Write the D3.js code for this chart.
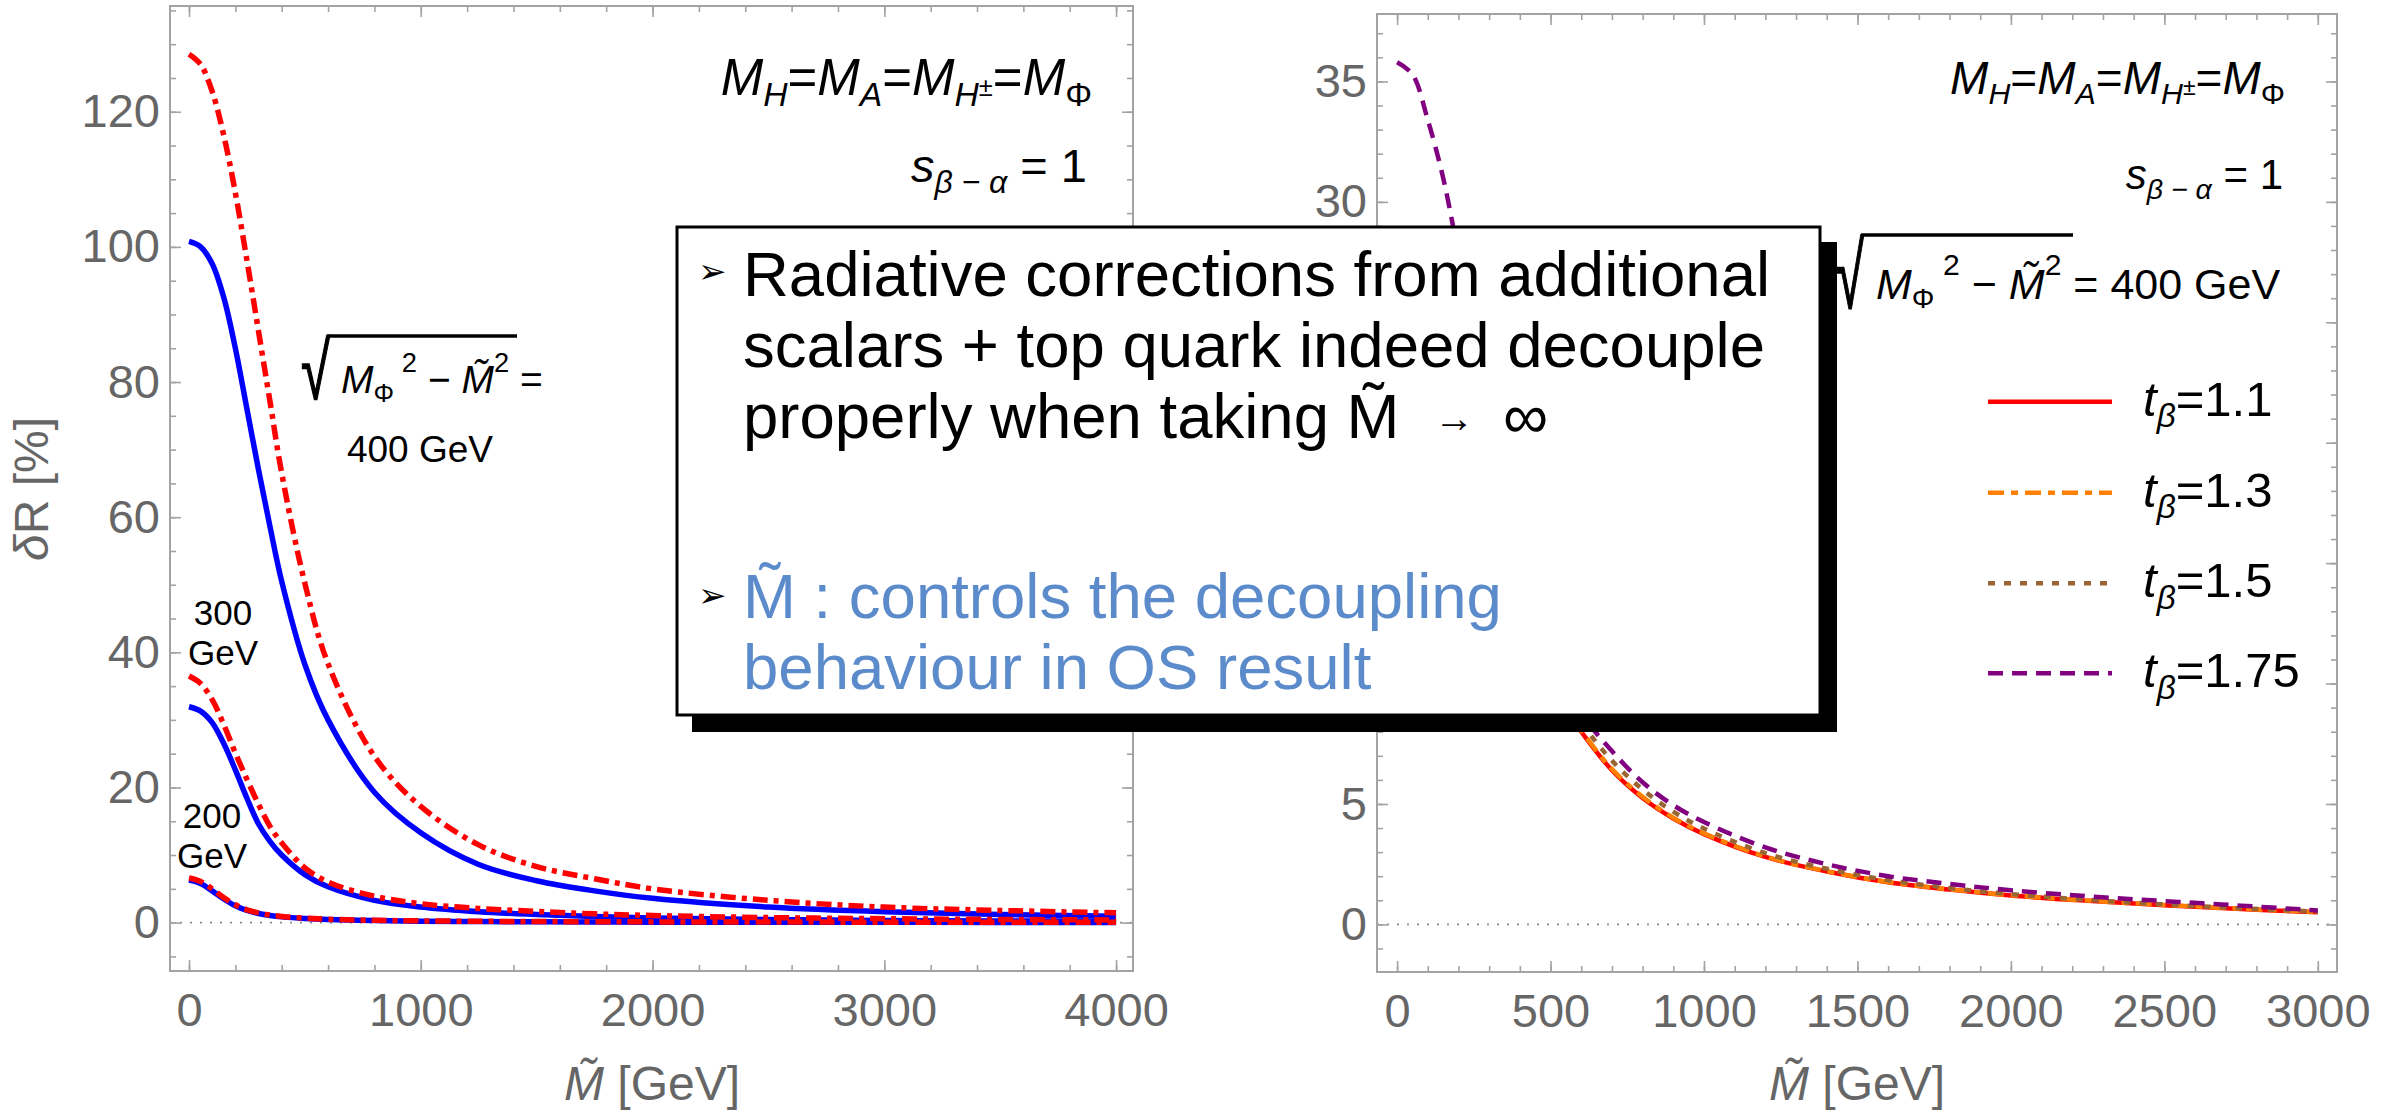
<!DOCTYPE html>
<html><head><meta charset="utf-8">
<script src="https://cdn.jsdelivr.net/npm/d3@7"></script>
<style>
body{margin:0;background:#fff}
svg{display:block}
text{font-family:"Liberation Sans",Arial,Helvetica,sans-serif}
</style>
</head><body>
<svg id="chart" width="2398" height="1114"></svg>
<script>
// ---------------- DATA ----------------
// Left panel: x grid (M~ in GeV) and curves for sqrt(MPhi^2 - M~^2) = 200, 300, 400 GeV
const mLeft   = [0, 50, 100, 150, 200, 250, 300, 350, 400, 500, 600, 800, 1000, 1250, 1500, 1750, 2000, 2500, 3000, 3500, 4000];
const blue400 = [100.8, 100.0, 97.5, 92.5, 85.0, 76.0, 67.0, 58.5, 50.5, 38.2, 30.0, 19.3, 13.3, 8.6, 6.2, 4.7, 3.6, 2.3, 1.6, 1.2, 0.95];
const red400  = [128.5, 127.0, 123.0, 116.5, 108.0, 98.0, 87.5, 77.0, 66.5, 50.2, 38.3, 24.6, 17.2, 11.5, 8.3, 6.5, 5.0, 3.3, 2.3, 1.8, 1.45];
const blue300 = [31.95, 31.3, 29.6, 26.5, 22.6, 18.4, 14.6, 12.0, 10.0, 7.1, 5.3, 3.3, 2.3, 1.6, 1.2, 0.9, 0.7, 0.45, 0.33, 0.25, 0.2];
const red300  = [36.5, 35.4, 33.0, 29.3, 25.1, 21.2, 17.5, 14.2, 11.8, 8.1, 6.0, 3.9, 2.8, 2.1, 1.65, 1.3, 1.05, 0.75, 0.58, 0.47, 0.4];
const blue200 = [6.3, 5.8, 4.7, 3.5, 2.5, 1.8, 1.35, 1.05, 0.85, 0.6, 0.45, 0.3, 0.22, 0.16, 0.12, 0.09, 0.07, 0.05, 0.04, 0.03, 0.03];
const red200  = [6.6, 6.1, 5.0, 3.7, 2.65, 1.9, 1.45, 1.12, 0.92, 0.66, 0.5, 0.34, 0.26, 0.2, 0.16, 0.13, 0.11, 0.08, 0.07, 0.06, 0.05];

// Right panel: x grid and curves for t_beta values
const mRight = [0, 50, 100, 150, 200, 300, 400, 500, 600, 700, 800, 900, 1000, 1200, 1400, 1600, 1800, 2000, 2250, 2500, 2750, 3000];
const tb110  = [22.0, 21.8, 21.2, 20.1, 18.6, 15.2, 12.2, 9.8, 8.0, 6.4, 5.25, 4.4, 3.75, 2.8, 2.2, 1.75, 1.45, 1.2, 0.98, 0.8, 0.64, 0.5];
const tb130  = [22.3, 22.1, 21.5, 20.4, 18.9, 15.4, 12.35, 9.9, 8.05, 6.45, 5.3, 4.43, 3.78, 2.82, 2.21, 1.76, 1.46, 1.21, 0.99, 0.81, 0.65, 0.51];
const tb150  = [25.0, 24.7, 24.0, 22.8, 21.2, 17.2, 13.5, 10.6, 8.4, 6.8, 5.6, 4.68, 3.98, 2.96, 2.31, 1.84, 1.51, 1.26, 1.02, 0.83, 0.67, 0.53];
const tb175  = [35.8, 35.3, 33.4, 31.0, 27.8, 21.0, 15.5, 11.6, 8.8, 7.2, 5.9, 4.95, 4.25, 3.2, 2.5, 2.0, 1.68, 1.42, 1.17, 0.97, 0.78, 0.58];
const legendValues = ["1.1", "1.3", "1.5", "1.75"];

// Ticks
const leftXMajor  = [0, 1000, 2000, 3000, 4000];
const leftYMajor  = [0, 20, 40, 60, 80, 100, 120];
const rightXMajor = [0, 500, 1000, 1500, 2000, 2500, 3000];
const rightYMajor = [0, 5, 10, 15, 20, 25, 30, 35];

// Curve labels
const leftCurveLabels = [["300", "GeV"], ["200", "GeV"]];

// Text box content
const boxLines1 = ["Radiative corrections from additional", "scalars + top quark indeed decouple", "properly when taking M\u0303"];
const boxLines2 = ["M\u0303 : controls the decoupling", "behaviour in OS result"];

// ---------------- STYLE ----------------
const FRAME = "#a3a3a3", TICKTXT = "#666666";
const BOX = {x: 677, y: 227, w: 1143, h: 488, shadow: 15};
const svg = d3.select("#chart");

function zipXY(xs, ys){ return xs.map((x,i)=>[x, ys[i]]); }

function richText(parent, x, y, size, parts, anchor, fill){
  const t = parent.append("text").attr("x", x).attr("y", y)
    .attr("font-size", size).attr("text-anchor", anchor || "start").attr("fill", fill || "#000");
  let cur = 0;
  parts.forEach(p=>{
    const off = (p.dy || 0) * size;
    const ts = t.append("tspan").text(p.t).attr("font-size", size * (p.s || 1)).attr("dy", off - cur);
    if (p.i) ts.attr("font-style", "italic");
    cur = off;
  });
  return t;
}

function fitGlyph(parent, ch, x0, y0, x1, y1){
  const ctx = document.createElement("canvas").getContext("2d");
  ctx.font = '100px "Liberation Sans"';
  const m = ctx.measureText(ch);
  const L = m.actualBoundingBoxLeft || 0, R = m.actualBoundingBoxRight || 60;
  const A = m.actualBoundingBoxAscent || 90, D = m.actualBoundingBoxDescent || 10;
  const sx = (x1-x0)/(L+R), sy = (y1-y0)/(A+D);
  parent.append("text").text(ch).attr("font-size", 100)
    .attr("stroke", "#000").attr("stroke-width", 1.3).attr("vector-effect", "non-scaling-stroke")
    .attr("transform", `translate(${x0 + L*sx},${y0 + A*sy}) scale(${sx},${sy})`);
}

function panel(cfg){
  const g = svg.append("g");
  const x = d3.scaleLinear().domain(cfg.xDomain).range([cfg.x0, cfg.x1]);
  const y = d3.scaleLinear().domain(cfg.yDomain).range([cfg.y1, cfg.y0]);
  const id = "clip" + cfg.name;
  svg.append("clipPath").attr("id", id).append("rect")
    .attr("x", cfg.x0).attr("y", cfg.y0).attr("width", cfg.x1-cfg.x0).attr("height", cfg.y1-cfg.y0);

  // zero line
  g.append("line").attr("x1", cfg.x0).attr("x2", cfg.x1).attr("y1", y(0)).attr("y2", y(0))
    .attr("stroke", "#8c8c8c").attr("stroke-width", 1.6).attr("stroke-dasharray", "2,8");

  const styleAxis = (sel)=>{ sel.select(".domain").remove(); sel.selectAll(".tick line").attr("stroke", FRAME).attr("stroke-width", 1.6); };
  const minorX = d3.range(0, cfg.xMax + 1e-9, cfg.xMinor);
  const minorY = d3.range(Math.ceil(cfg.yDomain[0]/cfg.yMinor)*cfg.yMinor, cfg.yDomain[1], cfg.yMinor);

  // bottom
  g.append("g").attr("transform", `translate(0,${cfg.y1})`)
    .call(d3.axisBottom(x).tickValues(minorX).tickSize(-6).tickFormat("")).call(styleAxis);
  const bx = g.append("g").attr("class", "labelled").attr("transform", `translate(0,${cfg.y1})`)
    .call(d3.axisBottom(x).tickValues(cfg.xMajor).tickSize(-11).tickPadding(22).tickFormat(d3.format("d"))).call(styleAxis);
  bx.selectAll("text").attr("font-size", cfg.tickFont).attr("fill", TICKTXT).attr("font-family", '"Liberation Sans",Arial,sans-serif');
  // top
  g.append("g").attr("transform", `translate(0,${cfg.y0})`)
    .call(d3.axisTop(x).tickValues(minorX).tickSize(-6).tickFormat("")).call(styleAxis);
  g.append("g").attr("transform", `translate(0,${cfg.y0})`)
    .call(d3.axisTop(x).tickValues(cfg.xMajor).tickSize(-11).tickFormat("")).call(styleAxis);
  // left
  g.append("g").attr("transform", `translate(${cfg.x0},0)`)
    .call(d3.axisLeft(y).tickValues(minorY).tickSize(-6).tickFormat("")).call(styleAxis);
  const ly = g.append("g").attr("class", "labelled").attr("transform", `translate(${cfg.x0},0)`)
    .call(d3.axisLeft(y).tickValues(cfg.yMajor).tickSize(-11).tickPadding(10).tickFormat(d3.format("d"))).call(styleAxis);
  ly.selectAll("text").attr("font-size", cfg.tickFont).attr("fill", TICKTXT).attr("font-family", '"Liberation Sans",Arial,sans-serif');
  // right
  g.append("g").attr("transform", `translate(${cfg.x1},0)`)
    .call(d3.axisRight(y).tickValues(minorY).tickSize(-6).tickFormat("")).call(styleAxis);
  g.append("g").attr("transform", `translate(${cfg.x1},0)`)
    .call(d3.axisRight(y).tickValues(cfg.yMajor).tickSize(-11).tickFormat("")).call(styleAxis);

  // frame
  g.append("rect").attr("x", cfg.x0).attr("y", cfg.y0).attr("width", cfg.x1-cfg.x0).attr("height", cfg.y1-cfg.y0)
    .attr("fill", "none").attr("stroke", FRAME).attr("stroke-width", 2);

  const line = d3.line().x(d=>x(d[0])).y(d=>y(d[1])).curve(d3.curveCatmullRom.alpha(0.5));
  const lines = g.append("g").attr("clip-path", `url(#${id})`);
  cfg.series.forEach(s=>{
    lines.append("path").attr("d", line(zipXY(s.xs, s.ys))).attr("fill", "none")
      .attr("stroke", s.color).attr("stroke-width", s.w).attr("stroke-dasharray", s.dash || null)
      .attr("stroke-linecap", "butt").attr("stroke-linejoin", "round");
  });

  // x title
  richText(g, cfg.xTitleX, 1100, 48, [{t:"M\u0303", i:1}, {t:" [GeV]"}], "middle", TICKTXT);
  return {g, x, y};
}

const headerParts = [
  {t:"M", i:1}, {t:"H", i:1, s:0.66, dy:0.22}, {t:"="},
  {t:"M", i:1}, {t:"A", i:1, s:0.66, dy:0.22}, {t:"="},
  {t:"M", i:1}, {t:"H", i:1, s:0.66, dy:0.22}, {t:"\u00b1", s:0.5, dy:0.02}, {t:"="},
  {t:"M", i:1}, {t:"\u03a6", s:0.66, dy:0.22}];
const sbaParts = [{t:"s", i:1}, {t:"\u03b2 \u2212 \u03b1", i:1, s:0.68, dy:0.24}, {t:" = 1"}];

// ---------------- LEFT PANEL ----------------
const L = panel({
  name: "L", x0: 170, x1: 1133, y0: 6, y1: 971,
  xDomain: [-82, 4073], yDomain: [-7.16, 135.65], xMax: 4000,
  xMajor: leftXMajor, yMajor: leftYMajor, xMinor: 200, yMinor: 5, tickFont: 47,
  xTitleX: 652,
  series: [
    {xs: mLeft, ys: blue400, color: "#0000ff", w: 5.5},
    {xs: mLeft, ys: blue300, color: "#0000ff", w: 5.5},
    {xs: mLeft, ys: blue200, color: "#0000ff", w: 5.5},
    {xs: mLeft, ys: red400, color: "#ff0000", w: 5.5, dash: "15,6,5,6"},
    {xs: mLeft, ys: red300, color: "#ff0000", w: 5.5, dash: "15,6,5,6"},
    {xs: mLeft, ys: red200, color: "#ff0000", w: 5.5, dash: "15,6,5,6"}
  ]
});
// y title
svg.append("text").attr("transform", "translate(48,489) rotate(-90)").attr("text-anchor", "middle")
  .attr("font-size", 48).attr("fill", TICKTXT)
  .call(t=>{ t.append("tspan").text("\u03b4").attr("font-style", "italic"); t.append("tspan").text("R [%]"); });

// annotations left
richText(L.g, 1092, 95, 51, headerParts, "end");
richText(L.g, 1087, 182, 47, sbaParts, "end");

fitGlyph(L.g, "\u221a", 302, 335, 330, 400);
L.g.append("line").attr("x1", 327).attr("x2", 517).attr("y1", 336).attr("y2", 336).attr("stroke", "#000").attr("stroke-width", 3.5);
richText(L.g, 341, 393, 39, [
  {t:"M", i:1}, {t:"\u03a6", s:0.66, dy:0.22}, {t:"\u2009"}, {t:"2", s:0.7, dy:-0.55},
  {t:" \u2212 ", dy:0}, {t:"M\u0303", i:1}, {t:"2", s:0.7, dy:-0.55}, {t:" =", dy:0}]);
L.g.append("text").attr("x", 420).attr("y", 462).attr("font-size", 37).attr("text-anchor", "middle").text("400 GeV");

const labelPos = [[223, 625], [212, 828]];
leftCurveLabels.forEach((lab, i)=>{
  L.g.append("text").attr("x", labelPos[i][0]).attr("y", labelPos[i][1]).attr("font-size", 35).attr("text-anchor", "middle").text(lab[0]);
  L.g.append("text").attr("x", labelPos[i][0]).attr("y", labelPos[i][1] + 40).attr("font-size", 35).attr("text-anchor", "middle").text(lab[1]);
});

// ---------------- RIGHT PANEL ----------------
const rightStyles = [
  {color: "#ff0000", dash: null},
  {color: "#ff8000", dash: "16,7,7,7"},
  {color: "#996633", dash: "7,9"},
  {color: "#800080", dash: "15,9"}
];
const rightData = [tb110, tb130, tb150, tb175];
const R = panel({
  name: "R", x0: 1377, x1: 2337, y0: 14, y1: 972,
  xDomain: [-65.5, 3062.6], yDomain: [-1.976, 37.8], xMax: 3000,
  xMajor: rightXMajor, yMajor: rightYMajor, xMinor: 100, yMinor: 1, tickFont: 47,
  xTitleX: 1857,
  series: rightData.map((ys, i)=>({xs: mRight, ys, color: rightStyles[i].color, w: 4.5, dash: rightStyles[i].dash}))
});

richText(R.g, 2285, 94, 46, headerParts, "end");
richText(R.g, 2283, 189, 42, sbaParts, "end");

fitGlyph(R.g, "\u221a", 1837, 234, 1864, 309);
R.g.append("line").attr("x1", 1861).attr("x2", 2073).attr("y1", 235).attr("y2", 235).attr("stroke", "#000").attr("stroke-width", 3.5);
richText(R.g, 1876, 299, 43, [
  {t:"M", i:1}, {t:"\u03a6", s:0.66, dy:0.22}, {t:"\u2009"}, {t:"2", s:0.7, dy:-0.55},
  {t:" \u2212 ", dy:0}, {t:"M\u0303", i:1}, {t:"2", s:0.7, dy:-0.55}, {t:" = 400 GeV", dy:0}]);

// legend
const legY = [401.7, 492.7, 583.3, 673.3];
legendValues.forEach((v, i)=>{
  R.g.append("line").attr("x1", 1988).attr("x2", 2112).attr("y1", legY[i]).attr("y2", legY[i])
    .attr("stroke", rightStyles[i].color).attr("stroke-width", 4.5).attr("stroke-dasharray", rightStyles[i].dash);
  richText(R.g, 2143, legY[i] + 14, 49, [{t:"t", i:1}, {t:"\u03b2", i:1, s:0.68, dy:0.24}, {t:"=" + v}]);
});

// tick labels that would sit entirely under the overlay box are not visible in the reference
svg.selectAll("g.labelled text").each(function(){
  const r = this.getBoundingClientRect();
  const bx0 = BOX.x, by0 = BOX.y, bx1 = BOX.x + BOX.w + BOX.shadow, by1 = BOX.y + BOX.h + BOX.shadow;
  if (r.left >= bx0 && r.right <= bx1 && r.top >= by0 && r.bottom <= by1) d3.select(this).remove();
});

// ---------------- TEXT BOX (overlay) ----------------
const box = svg.append("g");
box.append("rect").attr("x", BOX.x + BOX.shadow).attr("y", BOX.y + BOX.shadow).attr("width", BOX.w + 2).attr("height", BOX.h + 2).attr("fill", "#000");
box.append("rect").attr("x", BOX.x).attr("y", BOX.y).attr("width", BOX.w).attr("height", BOX.h).attr("fill", "#fff")
  .attr("stroke", "#000").attr("stroke-width", 3);
const bulletY = [271, 595];
bulletY.forEach(by=>{
  box.append("text").attr("x", 698).attr("y", by + 12).attr("font-size", 34)
    .attr("font-family", '"DejaVu Sans",sans-serif').text("\u27a2");
});
const base1 = [296, 367, 438];
boxLines1.forEach((s, i)=>{
  const t = box.append("text").attr("x", 743).attr("y", base1[i]).attr("font-size", 63.5).attr("fill", "#000").text(s);
  if (i === 2){
    t.append("tspan").text("\u2192").attr("x", 1434).attr("font-size", 40).attr("dy", -6);
    t.append("tspan").text("\u221e").attr("x", 1503).attr("font-size", 63.5).attr("dy", 6);
  }
});
const base2 = [618, 689];
boxLines2.forEach((s, i)=>{
  box.append("text").attr("x", 743).attr("y", base2[i]).attr("font-size", 63.5).attr("fill", "#5b8bcb").text(s);
});
</script>
</body></html>
